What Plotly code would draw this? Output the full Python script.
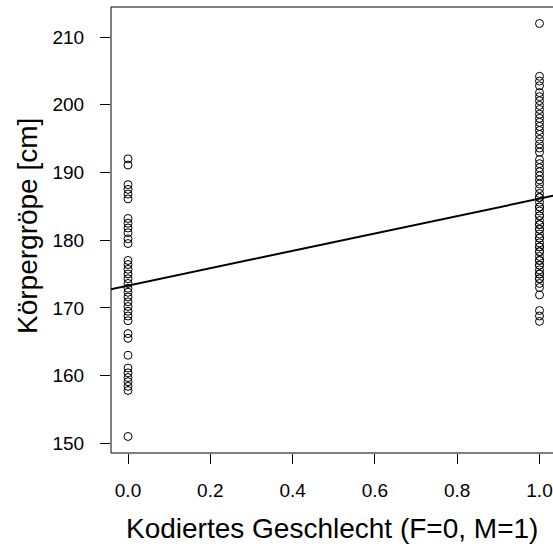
import numpy as np
import plotly.graph_objects as go

# Body height (cm) by coded sex: F = 0, M = 1
height_f = [192.0, 191.1, 188.2, 187.5, 186.8, 186.1, 183.2, 182.5, 181.8, 181.1,
            180.2, 179.5, 177.0, 176.4, 175.7, 175.0, 174.3, 173.6, 172.9, 172.3,
            171.6, 170.9, 170.2, 169.5, 168.8, 168.1, 166.2, 165.5, 163.0, 161.1,
            160.4, 159.7, 159.1, 158.4, 157.8, 151.0]
height_m = [212.0, 204.2, 203.5, 202.8, 201.8, 201.2, 200.6, 199.9, 199.3, 198.6,
            198.0, 197.4, 196.8, 196.2, 195.6, 194.9, 194.2, 193.6, 193.0, 191.9,
            191.3, 190.7, 190.1, 189.5, 188.9, 188.3, 187.6, 186.9, 186.3, 185.6,
            184.9, 184.3, 183.6, 182.9, 182.3, 181.6, 180.9, 180.3, 179.6, 179.0,
            178.3, 177.6, 177.0, 176.3, 175.6, 175.0, 174.3, 173.6, 173.0, 171.9,
            169.6, 168.8, 168.0,
            186.3, 184.9, 183.6, 182.3, 181.6, 180.3, 179.0, 178.3, 177.0, 176.3,
            175.0, 174.3]

x_ticks = [0.0, 0.2, 0.4, 0.6, 0.8, 1.0]
x_tick_labels = ["0.0", "0.2", "0.4", "0.6", "0.8", "1.0"]
y_ticks = [150, 160, 170, 180, 190, 200, 210]

x = np.array([0] * len(height_f) + [1] * len(height_m), dtype=float)
y = np.array(height_f + height_m, dtype=float)

# least-squares line through all points
slope, intercept = np.polyfit(x, y, 1)
line_x = np.array([-0.2, 1.2])
line_y = intercept + slope * line_x

font_family = "Liberation Sans, Arial, sans-serif"

fig = go.Figure()
fig.add_trace(go.Scatter(
    x=x, y=y, mode="markers",
    marker=dict(symbol="circle-open", size=8, color="black",
                line=dict(width=1, color="black")),
    hoverinfo="skip", showlegend=False,
))
fig.add_trace(go.Scatter(
    x=line_x, y=line_y, mode="lines",
    line=dict(color="black", width=2),
    hoverinfo="skip", showlegend=False,
))

fig.update_layout(
    width=553, height=546,
    margin=dict(l=111, r=0, t=7, b=93),
    paper_bgcolor="white", plot_bgcolor="white",
    font=dict(family=font_family, color="black", size=19),
    xaxis=dict(range=[-0.0413, 1.0328], tickvals=x_ticks, ticktext=x_tick_labels,
               ticks="outside", ticklen=10, tickwidth=1, tickcolor="black",
               ticklabelstandoff=10,
               showgrid=False, zeroline=False, showline=False,
               tickfont=dict(size=19, family=font_family)),
    yaxis=dict(range=[148.56, 214.44], tickvals=y_ticks,
               ticks="outside", ticklen=10, tickwidth=1, tickcolor="black",
               ticklabelstandoff=12,
               showgrid=False, zeroline=False, showline=False,
               tickfont=dict(size=19, family=font_family)),
    shapes=[dict(type="rect", xref="paper", yref="paper", x0=0, x1=1.05, y0=0, y1=1,
                 line=dict(color="black", width=1), fillcolor="rgba(0,0,0,0)")],
    annotations=[
        dict(text="Kodiertes Geschlecht (F=0, M=1)", xref="paper", yref="paper",
             x=0.5, y=0, yshift=-75, xanchor="center", yanchor="middle",
             showarrow=False, font=dict(size=28, family=font_family)),
        dict(text="Körpergröpe [cm]", xref="paper", yref="paper",
             x=0, y=0.509, xshift=-83, xanchor="center", yanchor="middle",
             textangle=-90, showarrow=False, font=dict(size=28, family=font_family)),
    ],
)

fig.write_html("out.html")
